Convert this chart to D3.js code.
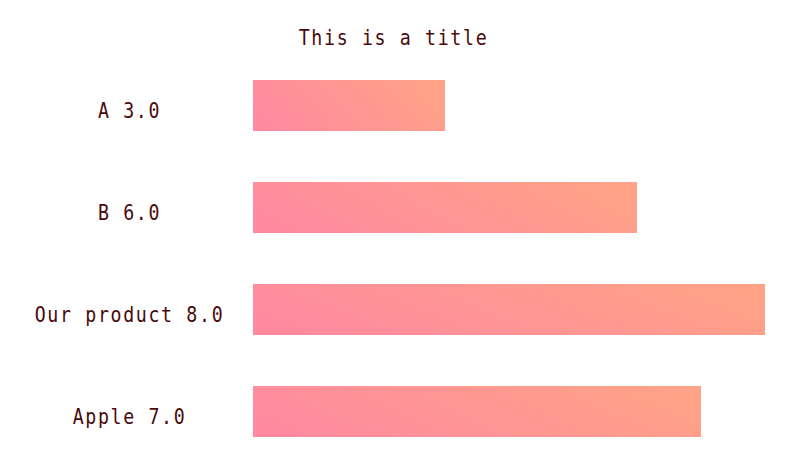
<!DOCTYPE html>
<html><head><meta charset="utf-8">
<script src="https://cdn.jsdelivr.net/npm/d3@7/dist/d3.min.js"></script>
<style>body{margin:0;background:#fff}svg{display:block}</style>
</head><body>
<script>
const categories = ["A", "B", "Our product", "Apple"];
const values = [3.0, 6.0, 8.0, 7.0];
const title = "This is a title";

const W = 799, H = 471;
const svg = d3.select("body").append("svg").attr("width", W).attr("height", H);
const defs = svg.append("defs");
const grad = defs.append("linearGradient").attr("id", "g")
  .attr("x1", 0).attr("y1", 0.62).attr("x2", 1).attr("y2", 0.38);
grad.append("stop").attr("offset", "0%").attr("stop-color", "#ff8aa0");
grad.append("stop").attr("offset", "100%").attr("stop-color", "#ffa287");

const x = d3.scaleLinear().domain([0, 8]).range([253, 765]);
const y = d3.scaleBand().domain(categories).range([54.5, 462.5]).paddingInner(0.5).paddingOuter(0.25);

const font = "'DejaVu Sans Mono', monospace";
const ink = "#4a0a0a";
const sx = 0.87;

function label(g, cx, cy, txt) {
  g.append("text")
    .attr("transform", `translate(${cx},${cy}) scale(${sx},1)`)
    .attr("text-anchor", "middle").attr("font-family", font).attr("font-size", 21)
    .attr("letter-spacing", (12.65 * (1 - sx) / sx).toFixed(2))
    .attr("fill", ink).text(txt);
}

label(svg, 393.5, 45, title);

svg.selectAll("rect.bar").data(categories).enter().append("rect").attr("class", "bar")
  .attr("x", x(0)).attr("y", d => y(d))
  .attr("width", (d, i) => x(values[i]) - x(0))
  .attr("height", y.bandwidth()).attr("fill", "url(#g)");

categories.forEach((d, i) => {
  label(svg, 128.5 + 1, y(d) + y.bandwidth() / 2 + 12, d + " " + values[i].toFixed(1));
});
</script>
</body></html>
